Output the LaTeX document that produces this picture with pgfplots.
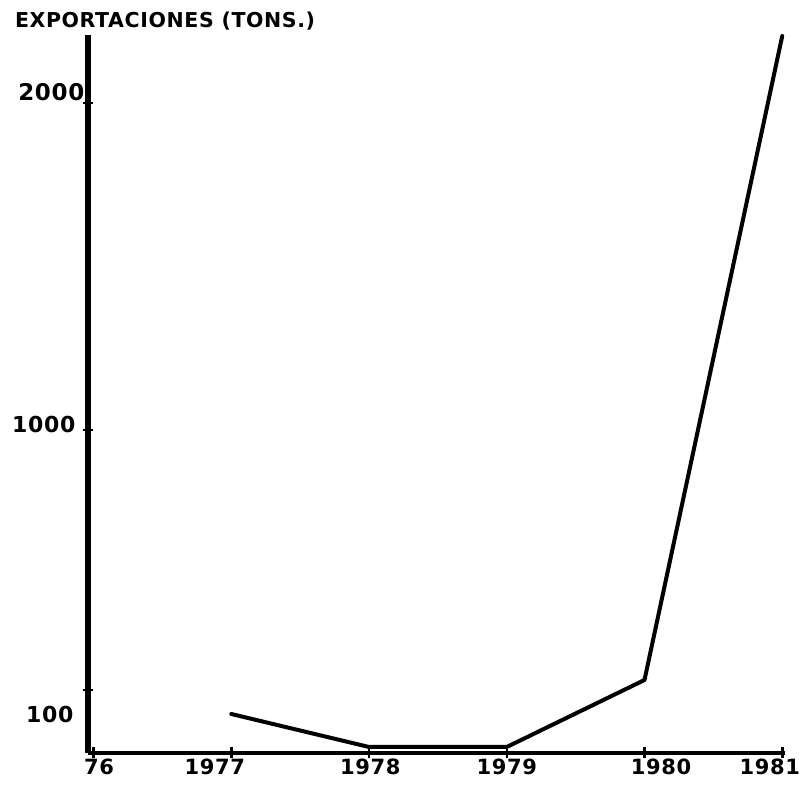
\documentclass[border=0pt]{standalone}
\usepackage{pgfplots}
\pgfplotsset{compat=1.18}
\usepackage{fontspec}
\setmainfont{DejaVu Sans}
\newfontfamily\lab[LetterSpace=3]{DejaVu Sans Bold}
\newfontfamily\ylab[LetterSpace=3]{DejaVu Sans Bold}
\newfontfamily\ttl[LetterSpace=3]{DejaVu Sans Bold}
\begin{document}
\begin{tikzpicture}[x=1pt,y=1pt]
\useasboundingbox (0,0) rectangle (801,794);
\begin{axis}[
  scale only axis,
  width=697pt, height=718pt,
  at={(88pt,41pt)}, anchor=south west,
  xmin=1975.96, xmax=1981.02,
  ymin=0, ymax=718,
  axis x line=bottom, axis y line=left,
  axis line style={-, black},
  x axis line style={line width=4.5pt},
  y axis line style={line width=5.5pt},
  xtick={1976,1977,1978,1979,1980,1981},
  ytick={63,323,650},
  xticklabels={,,,,,}, yticklabels={,,},
  tick style={line width=2.5pt, black},
  major tick length=11pt,
  tick align=center,
  clip=false,
]
\addplot[black, line width=4pt, line join=round, line cap=round] coordinates {
  (1977,39) (1978,6) (1979,6) (1980,73) (1981,717)
};
% x labels
\foreach \xx/\tt in {1976.04/76,1976.88/1977,1978.01/1978,1979.0/1979,1980.12/1980,1980.91/1981}{
  \edef\temp{\noexpand\node[font=\noexpand\lab\noexpand\fontsize{21}{23}\noexpand\selectfont, inner sep=0pt] at (axis cs:\xx,-14) {\tt};}
  \temp
}
% y labels
\node[anchor=east, font=\ylab\fontsize{23}{25}\selectfont, inner sep=0pt] at (axis cs:1975.935,661) {2000};
\node[anchor=east, font=\ylab\fontsize{22}{24}\selectfont, inner sep=0pt] at (axis cs:1975.87,328) {1000};
\node[anchor=east, font=\ylab\fontsize{22}{24}\selectfont, inner sep=0pt] at (axis cs:1975.855,39) {100};
\node[anchor=west, font=\ttl\fontsize{20.5}{22}\selectfont, inner sep=0pt] at (axis description cs:-0.105,1.02) {EXPORTACIONES (TONS.)};
\end{axis}
\end{tikzpicture}
\end{document}
